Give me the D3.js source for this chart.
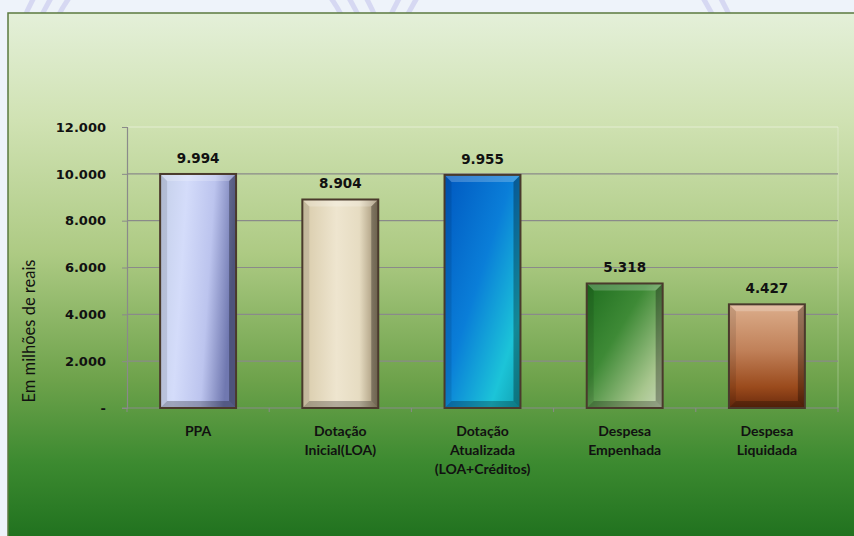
<!DOCTYPE html>
<html>
<head>
<meta charset="utf-8">
<script src="https://cdn.jsdelivr.net/npm/d3@7"></script>
<title>Execução orçamentária</title>
<style>
  body { margin:0; background:#eef3fa; }
  svg { display:block; }
</style>
</head>
<body>
<div id="chart"></div>
<script>
// chart data
var categories = ["PPA", "Dotação Inicial(LOA)", "Dotação Atualizada (LOA+Créditos)", "Despesa Empenhada", "Despesa Liquidada"];
var categoryLines = [["PPA"], ["Dotação", "Inicial(LOA)"], ["Dotação", "Atualizada", "(LOA+Créditos)"], ["Despesa", "Empenhada"], ["Despesa", "Liquidada"]];
var values = [9994, 8904, 9955, 5318, 4427];
var yTicks = [0, 2000, 4000, 6000, 8000, 10000, 12000];
var yTitle = "Em milhões de reais";

// bar fills (gradient direction x1,y1,x2,y2 + stops)
var barFills = [
  { dir: [0, 0, 1, 0.2], stops: [[0, "#c4cfe8"], [0.35, "#d4dcfa"], [0.7, "#bcc4ee"], [1, "#7078b0"]] },
  { dir: [0, 0, 1, 0], stops: [[0, "#d8cbaa"], [0.45, "#eee5cf"], [0.75, "#e6dcc2"], [1, "#9c8c6e"]] },
  { dir: [0, 0, 1, 1], stops: [[0, "#0058c0"], [0.45, "#0a7ed8"], [0.8, "#1cc4d8"], [1, "#10a0b0"]] },
  { dir: [0, 0, 1, 1], stops: [[0, "#1f6e1f"], [0.4, "#3e8a36"], [0.8, "#a8c68e"], [1, "#c8d8b8"]] },
  { dir: [0, 0, 0, 1], stops: [[0, "#dcae8c"], [0.45, "#c08058"], [0.8, "#9a4a1c"], [1, "#6a2a0c"]] }
];

(function() {
  var W = 854, H = 536;
  var plotL = 127, plotR = 838, plotT = 127, plotB = 408;

  var fmt = d3.formatLocale({ decimal: ",", thousands: ".", grouping: [3], currency: ["R$", ""] }).format(",");
  function label(v) { return v === 0 ? "-" : fmt(v); }

  var svg = d3.select("#chart").append("svg").attr("width", W).attr("height", H);
  var defs = svg.append("defs");

  var bg = defs.append("linearGradient").attr("id", "bg").attr("x1", 0).attr("y1", 0).attr("x2", 0).attr("y2", 1);
  [[0, "#e4f0d9"], [0.2, "#d0e2b3"], [0.45, "#adca83"], [0.68, "#6fa34c"], [0.84, "#3c8a30"], [1, "#1c6e1c"]]
    .forEach(function(s) { bg.append("stop").attr("offset", s[0]).attr("stop-color", s[1]); });

  barFills.forEach(function(f, i) {
    var g = defs.append("linearGradient").attr("id", "bar" + i)
      .attr("x1", f.dir[0]).attr("y1", f.dir[1]).attr("x2", f.dir[2]).attr("y2", f.dir[3]);
    f.stops.forEach(function(s) { g.append("stop").attr("offset", s[0]).attr("stop-color", s[1]); });
  });

  // faint decoration in the strip above the panel
  var deco = svg.append("g").attr("fill", "none").attr("stroke", "#b9b8e8").attr("stroke-opacity", 0.45);
  [[200, 90, 160], [200, 90, 175], [200, 90, 190], [560, 90, 170], [560, 90, 185], [1180, 90, 170], [1180, 90, 185]]
    .forEach(function(c) { deco.append("circle").attr("cx", c[0]).attr("cy", c[1]).attr("r", c[2]).attr("stroke-width", 5); });

  // panel
  svg.append("rect").attr("x", 8).attr("y", 13).attr("width", W).attr("height", H)
    .attr("fill", "url(#bg)").attr("stroke", "#5b7a3f").attr("stroke-width", 1.5);

  var x = d3.scaleBand().domain(categories).range([plotL, plotR]).paddingInner(0.466).paddingOuter(0.233);
  var y = d3.scaleLinear().domain([0, 12000]).range([plotB, plotT]);

  // plot area frame (top and right, light)
  svg.append("line").attr("x1", plotL).attr("x2", plotR).attr("y1", plotT).attr("y2", plotT)
    .attr("stroke", "#ffffff").attr("stroke-opacity", 0.45);
  svg.append("line").attr("x1", plotR).attr("x2", plotR).attr("y1", plotT).attr("y2", plotB)
    .attr("stroke", "#ffffff").attr("stroke-opacity", 0.3);

  // grid
  svg.append("g").selectAll("line").data(yTicks.filter(function(t) { return t > 0 && t < 12000; }))
    .enter().append("line")
    .attr("x1", plotL).attr("x2", plotR)
    .attr("y1", function(d) { return y(d); }).attr("y2", function(d) { return y(d); })
    .attr("stroke", "#8a8a8a").attr("stroke-width", 1.2);

  // y axis
  var yAxis = svg.append("g").attr("transform", "translate(" + plotL + ",0)")
    .call(d3.axisLeft(y).tickValues(yTicks).tickFormat(label).tickSize(5).tickPadding(16));
  yAxis.select(".domain").attr("stroke", "#8a8a8a").attr("stroke-width", 1.2);
  yAxis.selectAll(".tick line").attr("stroke", "#8a8a8a");
  yAxis.selectAll(".tick text").attr("fill", "#111").attr("font-family", "DejaVu Sans")
    .attr("font-weight", "bold").attr("font-size", "13px");

  // x axis line + boundary ticks
  svg.append("line").attr("x1", plotL - 5).attr("x2", plotR).attr("y1", plotB).attr("y2", plotB)
    .attr("stroke", "#8a8a8a").attr("stroke-width", 1.2);
  svg.append("g").selectAll("line").data(d3.range(categories.length + 1)).enter().append("line")
    .attr("x1", function(i) { return plotL + i * x.step(); })
    .attr("x2", function(i) { return plotL + i * x.step(); })
    .attr("y1", plotB).attr("y2", plotB + 4)
    .attr("stroke", "#8a8a8a");

  // bars with bevelled edges
  var bev = 7;
  var P = function(pts) { return "M" + pts.map(function(p) { return p.join(","); }).join("L") + "Z"; };
  var bars = svg.append("g").selectAll("g").data(values).enter().append("g");
  bars.each(function(v, i) {
    var g = d3.select(this);
    var x0 = x(categories[i]), x1 = x0 + x.bandwidth(), y0 = y(v), y1 = y(0);
    g.append("rect").attr("x", x0).attr("y", y0).attr("width", x1 - x0).attr("height", y1 - y0)
      .attr("fill", "url(#bar" + i + ")");
    g.append("path").attr("d", P([[x0, y0], [x1, y0], [x1 - bev, y0 + bev], [x0 + bev, y0 + bev]]))
      .attr("fill", "#ffffff").attr("opacity", 0.22);
    g.append("path").attr("d", P([[x0, y0], [x0 + bev, y0 + bev], [x0 + bev, y1 - bev], [x0, y1]]))
      .attr("fill", "#000000").attr("opacity", 0.1);
    g.append("path").attr("d", P([[x1, y0], [x1, y1], [x1 - bev, y1 - bev], [x1 - bev, y0 + bev]]))
      .attr("fill", "#000000").attr("opacity", 0.3);
    g.append("path").attr("d", P([[x0, y1], [x0 + bev, y1 - bev], [x1 - bev, y1 - bev], [x1, y1]]))
      .attr("fill", "#000000").attr("opacity", 0.25);
    g.append("rect").attr("x", x0).attr("y", y0).attr("width", x1 - x0).attr("height", y1 - y0)
      .attr("fill", "none").attr("stroke", "#4a3a2c").attr("stroke-width", 2);
  });

  // value labels
  svg.append("g").selectAll("text").data(values).enter().append("text")
    .attr("x", function(d, i) { return x(categories[i]) + x.bandwidth() / 2; })
    .attr("y", function(d) { return y(d) - 11; })
    .attr("text-anchor", "middle").attr("font-family", "DejaVu Sans").attr("font-weight", "bold")
    .attr("font-size", "13.5px").attr("fill", "#111").text(function(d) { return label(d); });

  // category labels
  var cat = svg.append("g").selectAll("text").data(categoryLines).enter().append("text")
    .attr("x", function(d, i) { return x(categories[i]) + x.bandwidth() / 2; })
    .attr("y", 436).attr("text-anchor", "middle").attr("font-family", "Lato")
    .attr("font-weight", "bold").attr("font-size", "14px").attr("fill", "#111");
  cat.each(function(lines) {
    var t = d3.select(this), cx = t.attr("x");
    lines.forEach(function(l, k) {
      t.append("tspan").attr("x", cx).attr("dy", k === 0 ? 0 : 19).text(l);
    });
  });

  // y title
  svg.append("text").attr("transform", "translate(35,331) rotate(-90)")
    .attr("text-anchor", "middle").attr("font-family", "Lato").attr("font-size", "16.5px")
    .attr("fill", "#111").text(yTitle);
})();
</script>
</body>
</html>
